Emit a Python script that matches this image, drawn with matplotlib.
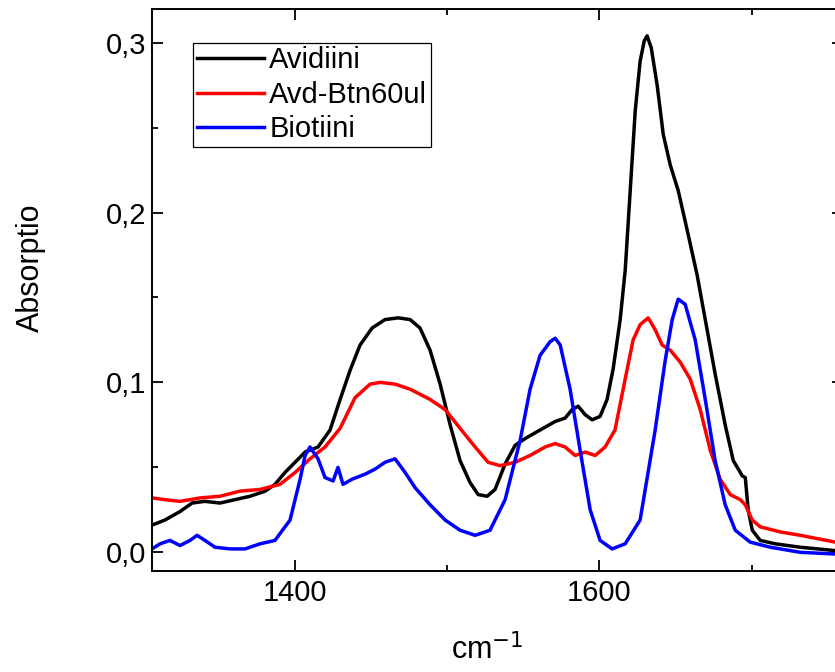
import numpy as np
import matplotlib
matplotlib.use("Agg")
import matplotlib.pyplot as plt
from matplotlib.ticker import MultipleLocator, FuncFormatter

plt.rcParams['font.family'] = ['Liberation Sans', 'DejaVu Sans']

# Avidiini
avd_x = [1306.0, 1314.5, 1324.4, 1332.3, 1340.8, 1350.7, 1360.5, 1370.4, 1380.3, 1386.8,
         1393.4, 1400.0, 1406.6, 1415.1, 1423.0, 1429.6, 1436.1, 1442.7, 1450.6, 1459.1,
         1467.7, 1475.6, 1482.1, 1488.7, 1495.3, 1501.9, 1508.4, 1515.0, 1520.3, 1526.2,
         1531.4, 1538.0, 1544.6, 1551.2, 1561.0, 1570.9, 1577.4, 1582.0, 1586.0, 1590.6,
         1595.2, 1600.4, 1605.0, 1609.0, 1613.6, 1616.9, 1620.2, 1623.5, 1626.7, 1629.4,
         1631.3, 1634.0, 1637.9, 1641.9, 1646.5, 1651.7, 1658.3, 1664.2, 1669.5, 1676.0,
         1682.6, 1687.9, 1691.2, 1693.8, 1695.8, 1697.7, 1700.4, 1705.6, 1715.5, 1731.9,
         1754.9, 1760.0]
avd_y = [0.016, 0.019, 0.024, 0.029, 0.030, 0.029, 0.031, 0.033, 0.036, 0.040,
         0.047, 0.053, 0.059, 0.062, 0.072, 0.090, 0.107, 0.122, 0.132, 0.137,
         0.138, 0.137, 0.132, 0.119, 0.099, 0.075, 0.054, 0.041, 0.034, 0.033,
         0.037, 0.052, 0.063, 0.067, 0.072, 0.077, 0.079, 0.084, 0.086, 0.081,
         0.078, 0.080, 0.090, 0.108, 0.137, 0.166, 0.213, 0.260, 0.289, 0.301,
         0.304, 0.297, 0.275, 0.246, 0.228, 0.213, 0.187, 0.163, 0.137, 0.105,
         0.075, 0.054, 0.049, 0.045, 0.044, 0.025, 0.013, 0.007, 0.005, 0.003,
         0.001, 0.001]

# Avd-Btn60ul
btn_x = [1306.0, 1314.5, 1324.4, 1337.5, 1350.7, 1363.8, 1377.0, 1390.1, 1400.0, 1409.8,
         1419.7, 1429.6, 1439.4, 1449.3, 1455.9, 1465.7, 1475.6, 1488.7, 1498.6, 1508.4,
         1518.3, 1526.8, 1534.7, 1544.6, 1554.4, 1564.3, 1570.9, 1577.4, 1584.0, 1590.6,
         1597.2, 1603.7, 1610.2, 1616.9, 1622.1, 1626.7, 1632.0, 1636.6, 1641.2, 1646.5,
         1653.0, 1659.6, 1666.2, 1672.8, 1679.3, 1685.9, 1692.5, 1695.8, 1700.4, 1705.6,
         1718.8, 1732.0, 1754.9, 1760.0]
btn_y = [0.032, 0.031, 0.030, 0.032, 0.033, 0.036, 0.037, 0.040, 0.047, 0.055,
         0.062, 0.073, 0.091, 0.099, 0.100, 0.099, 0.096, 0.090, 0.084, 0.073,
         0.062, 0.053, 0.051, 0.053, 0.057, 0.062, 0.064, 0.062, 0.057, 0.059,
         0.057, 0.062, 0.072, 0.102, 0.125, 0.134, 0.138, 0.131, 0.122, 0.119,
         0.112, 0.102, 0.084, 0.060, 0.043, 0.034, 0.031, 0.028, 0.019, 0.015,
         0.012, 0.010, 0.006, 0.006]

# Biotiini
bio_x = [1306.0, 1311.3, 1317.8, 1324.4, 1331.0, 1335.6, 1340.8, 1347.4, 1357.3, 1367.1,
         1377.0, 1386.8, 1396.7, 1403.3, 1406.6, 1409.8, 1415.1, 1419.7, 1425.0, 1428.2,
         1431.5, 1437.4, 1446.0, 1452.6, 1459.1, 1465.7, 1472.3, 1478.9, 1488.7, 1498.6,
         1508.4, 1518.3, 1528.1, 1538.0, 1547.9, 1554.4, 1561.0, 1567.6, 1570.9, 1574.2,
         1580.7, 1587.3, 1593.9, 1600.4, 1608.3, 1616.9, 1626.7, 1636.6, 1643.2, 1647.8,
         1651.7, 1656.3, 1662.9, 1669.5, 1676.0, 1682.6, 1689.2, 1699.0, 1712.2, 1731.9,
         1754.9, 1760.0]
bio_y = [0.002, 0.005, 0.007, 0.004, 0.007, 0.010, 0.007, 0.003, 0.002, 0.002,
         0.005, 0.007, 0.019, 0.043, 0.057, 0.062, 0.055, 0.044, 0.042, 0.050,
         0.040, 0.043, 0.046, 0.049, 0.053, 0.055, 0.047, 0.038, 0.028, 0.019,
         0.013, 0.010, 0.013, 0.031, 0.066, 0.096, 0.116, 0.124, 0.126, 0.122,
         0.096, 0.060, 0.025, 0.007, 0.002, 0.005, 0.019, 0.072, 0.113, 0.137,
         0.149, 0.146, 0.125, 0.090, 0.054, 0.028, 0.013, 0.006, 0.003, 0.000,
         -0.001, -0.001]

fig = plt.figure(figsize=(8.35, 6.72), dpi=100)
# the right spine sits just past the figure edge
ax = fig.add_axes([152 / 835, 1 - 571 / 672, (843 - 152) / 835, (571 - 9) / 672])

ax.plot(avd_x, avd_y, color='black', lw=2.5, label='Avidiini')
ax.plot(btn_x, btn_y, color='red', lw=2.5, label='Avd-Btn60ul')
ax.plot(bio_x, bio_y, color='blue', lw=2.5, label='Biotiini')

ax.set_xlim(1306, 1760)
ax.set_ylim(-0.011, 0.3198)

ax.xaxis.set_major_locator(MultipleLocator(200))
ax.xaxis.set_minor_locator(MultipleLocator(100))
ax.yaxis.set_major_locator(MultipleLocator(0.1))
ax.yaxis.set_minor_locator(MultipleLocator(0.05))
ax.yaxis.set_major_formatter(FuncFormatter(lambda v, p: f"{v:.1f}".replace('.', ',').replace('-0,0', '0,0')))

ax.tick_params(which='both', direction='in', top=True, right=True, width=1.3, labelsize=21)
ax.tick_params(which='major', length=8)
ax.tick_params(which='minor', length=4.5)
ax.tick_params(axis='x', pad=6)
ax.tick_params(axis='y', pad=4)
for s in ax.spines.values():
    s.set_linewidth(1.4)

# axis titles placed in figure coordinates
fig.text(487 / 835, 1 - 650 / 672, 'cm$^{-1}$', fontsize=22, ha='center', va='center')
fig.text(31 / 835, 1 - 268 / 672, 'Absorptio', fontsize=22, rotation=90, ha='center', va='center')

leg = ax.legend(loc='upper left', bbox_to_anchor=(193 / 835, 1 - 43 / 672),
                bbox_transform=fig.transFigure, borderaxespad=0, borderpad=0.12,
                fontsize=21, handlelength=2.3, handletextpad=0.2, labelspacing=0.22,
                fancybox=False, framealpha=1)
leg.get_frame().set_edgecolor('black')
leg.get_frame().set_linewidth(0.9)

fig.savefig('out.png', dpi=100)
